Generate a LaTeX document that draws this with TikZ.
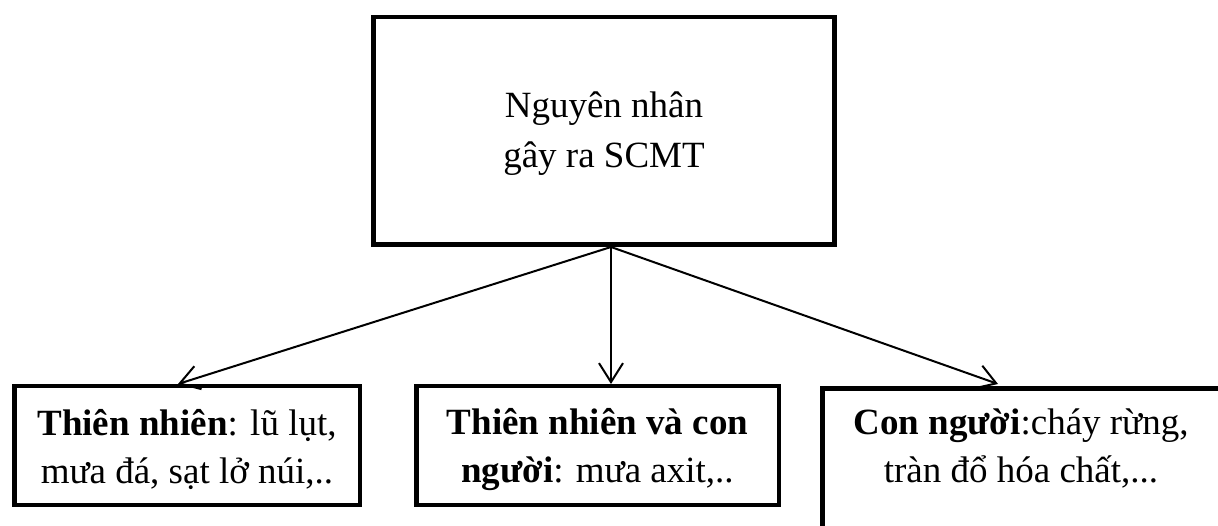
\documentclass[tikz,border=0pt]{standalone}
\usepackage{fontspec}
\setmainfont{Liberation Serif}
\usetikzlibrary{arrows.meta,calc}
\begin{document}
\begin{tikzpicture}[x=1pt,y=-1pt,
  box/.style={draw,line width=4.5pt,rectangle,inner sep=0pt},
  txt/.style={font=\fontsize{37}{48}\selectfont,align=center,inner sep=0pt},
  link/.style={line width=2pt,-{Straight Barb[length=19pt,width=24pt,line width=2pt]}}]
  \useasboundingbox (0,0) rectangle (1218,526);
  \clip (0,0) rectangle (1218,526);

  % frames
  \node[box,minimum width=461pt,minimum height=227.5pt] (root) at (604,131) {};
  \node[box,minimum width=345.5pt,minimum height=118.5pt] (nat) at (187,445.5) {};
  \node[box,minimum width=362.5pt,minimum height=118.5pt] (mix) at (597.5,445.5) {};
  \node[box,minimum width=406pt,minimum height=200pt,anchor=north west] (hum) at (820,386.5) {};

  % labels
  \node[txt,font=\fontsize{37}{50}\selectfont] (roottext) at ([yshift=-3pt]root.center)
        {Nguyên nhân\\gây ra SCMT};
  \node[txt] (nattext) at ([yshift=-4pt]nat.center)
        {\textbf{Thiên nhiên}: lũ lụt,\\mưa đá, sạt lở núi,..};
  \node[txt] (mixtext) at ([yshift=-4pt]mix.center)
        {\textbf{Thiên nhiên và con}\\\textbf{người}: mưa axit,..};
  \node[txt] (humtext) at (1021,448) {\textbf{Con người}:cháy rừng,\\tràn đổ hóa chất,...};

  % connectors
  \coordinate (src) at (611,247);
  \coordinate (tnat) at (178,384);
  \coordinate (tmix) at (611,384);
  \coordinate (thum) at (998,384);
  \draw[link] (src) -- (tnat);
  \draw[link] (src) -- (tmix);
  \draw[link] (src) -- (thum);
\end{tikzpicture}
\end{document}
